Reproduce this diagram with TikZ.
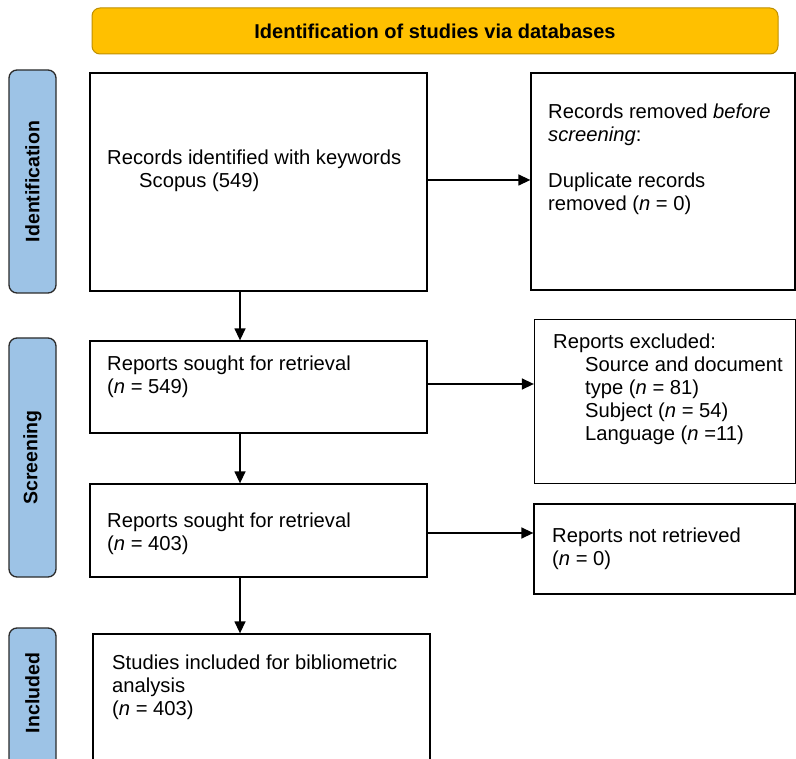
\documentclass[tikz,border=0pt]{standalone}
\usepackage{fontspec}
\setmainfont{Liberation Sans}
\usetikzlibrary{arrows.meta}
\definecolor{hdrfill}{HTML}{FFC000}
\definecolor{hdrdraw}{HTML}{BF9000}
\definecolor{sidefill}{HTML}{9DC3E6}
\definecolor{sidedraw}{HTML}{2B2B2B}
\tikzset{
  box/.style={draw=black, line width=1.3pt, fill=white, inner sep=0pt, rectangle},
  hdr/.style={draw=hdrdraw, line width=1pt, fill=hdrfill, rounded corners=8pt, inner sep=0pt,
    font=\fontsize{20}{23}\selectfont\bfseries},
  side/.style={draw=sidedraw, line width=1.3pt, fill=sidefill, rounded corners=8pt, inner sep=0pt},
  sidetxt/.style={rotate=90, font=\fontsize{19.5}{22}\selectfont\bfseries, inner sep=0pt},
  txt/.style={anchor=north west, align=left, inner sep=0pt, font=\fontsize{20.2}{22.8}\selectfont},
  arr/.style={line width=1.4pt, -{Triangle[length=12pt,width=11pt]}}
}
\begin{document}
\begin{tikzpicture}[x=1pt,y=-1pt]
\clip (0,0) rectangle (796,759);
\fill[white] (0,0) rectangle (796,759);

% header
\node[hdr, minimum width=686, minimum height=46] (hd) at (435,31) {Identification of studies via databases};

% side labels
\node[side, minimum width=47, minimum height=223] (s1) at (32.5,181.5) {};
\node[sidetxt] (s1t) at (s1.center) {Identification};
\node[side, minimum width=47, minimum height=239] (s2) at (32.5,457.5) {};
\node[sidetxt] (s2t) at (s2.center) {Screening};
\node[side, minimum width=47, minimum height=252] (s3) at (32.5,754) {};
\node[sidetxt] (s3t) at (32.5,693) {Included};

% boxes
\node[box, minimum width=337, minimum height=218] (b1) at (258.5,182) {};
\node[box, minimum width=264, minimum height=217] (r1) at (663,181.5) {};
\node[box, minimum width=337, minimum height=92] (b2) at (258.5,387) {};
\node[box, minimum width=261, minimum height=164] (r2) at (665,401.5) {};
\node[box, minimum width=337, minimum height=93] (b3) at (258.5,530.5) {};
\node[box, minimum width=261, minimum height=90] (r3) at (664.5,549) {};
\node[box, minimum width=337, minimum height=180] (b4) at (261.5,724) {};

% texts
\node[txt] (t1a) at (107,149.5) {Records identified with keywords};
\node[txt] (t1b) at (139,172.5) {Scopus (549)};
\node[txt] (tr1) at (548,104) {Records removed \textit{before}\\\textit{screening}:\\[22.8pt]Duplicate records\\removed (\textit{n} = 0)};
\node[txt] (t2) at (107,355.5) {Reports sought for retrieval\\(\textit{n} = 549)};
\node[txt] (tr2a) at (553,334) {Reports excluded:};
\node[txt] (tr2b) at (585,357) {Source and document\\type (\textit{n} = 81)\\Subject (\textit{n} = 54)\\Language (\textit{n} =11)};
\node[txt] (t3) at (107,512.5) {Reports sought for retrieval\\(\textit{n} = 403)};
\node[txt] (tr3) at (552,527.5) {Reports not retrieved\\(\textit{n} = 0)};
\node[txt] (t4) at (112,655) {Studies included for bibliometric\\analysis\\(\textit{n} = 403)};

% arrows
\draw[arr] ([xshift=-18.5pt]b1.south) -- ([xshift=-18.5pt]b1.south |- b2.north);
\draw[arr] ([xshift=-18.5pt]b2.south) -- ([xshift=-18.5pt]b2.south |- b3.north);
\draw[arr] ([xshift=-18.5pt]b3.south) -- ([xshift=-18.5pt]b3.south |- b4.north);
\draw[arr] ([yshift=2pt]b1.east) -- ([yshift=2pt]b1.east -| r1.west);
\draw[arr] ([yshift=3pt]b2.east) -- ([yshift=3pt]b2.east -| r2.west);
\draw[arr] ([yshift=-2.5pt]b3.east) -- ([yshift=-2.5pt]b3.east -| r3.west);
\end{tikzpicture}
\end{document}
